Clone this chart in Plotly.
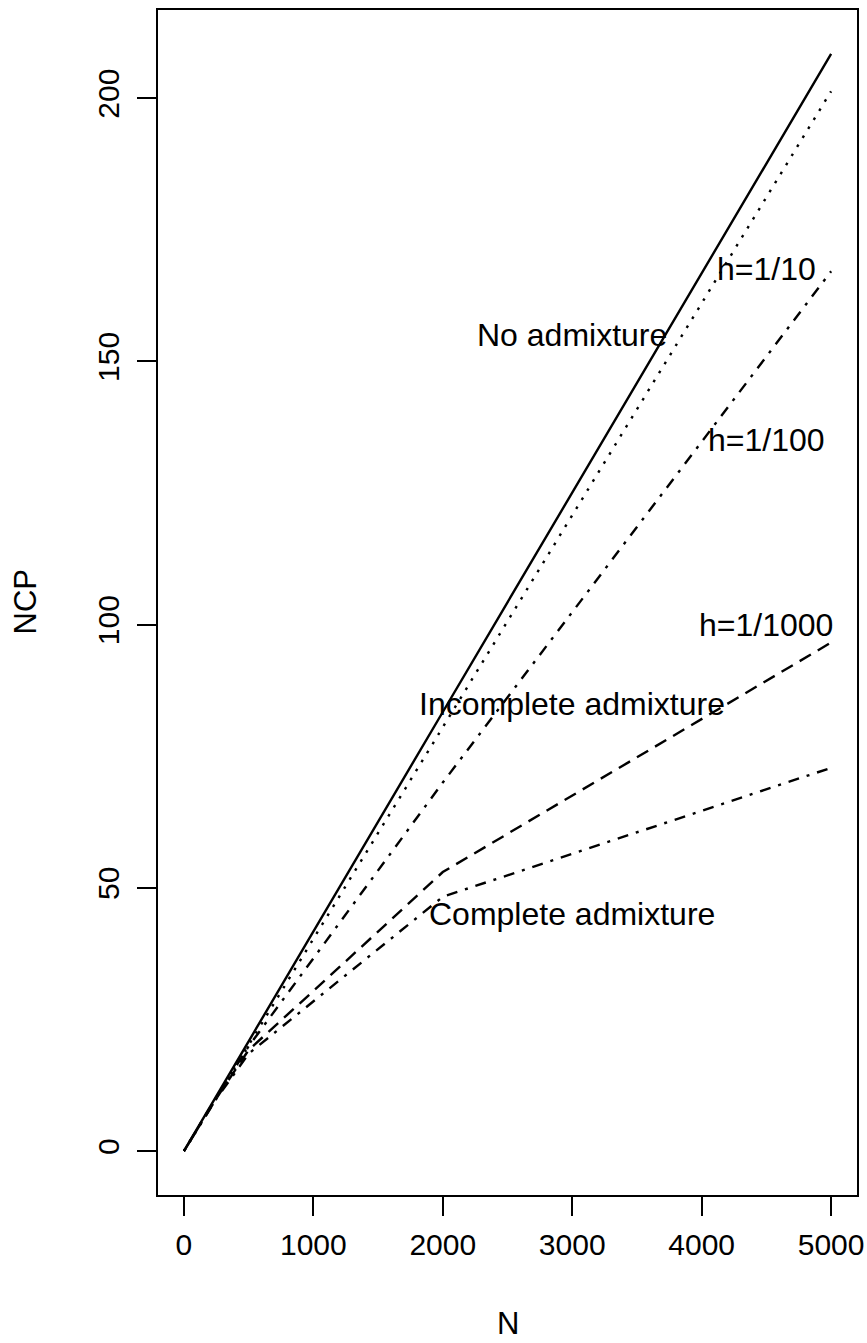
import plotly.graph_objects as go

# ---- data ----
N = [0, 250, 500, 1000, 2000, 5000]
no_admixture = [0, 10.4, 20.8, 41.7, 83.4, 208.4]
h_1_10 = [0, 10.1, 20.1, 40.3, 80.5, 201.3]
h_1_100 = [0, 10.2, 19.9, 36.6, 70.0, 167.1]
h_1_1000 = [0, 10.0, 19.2, 30.4, 53.0, 96.6]
complete_admixture = [0, 9.9, 18.5, 28.4, 48.3, 72.8]

x_ticks = [0, 1000, 2000, 3000, 4000, 5000]
y_ticks = [0, 50, 100, 150, 200]

label_text = ["No admixture", "h=1/10", "h=1/100", "h=1/1000",
              "Incomplete admixture", "Complete admixture"]
label_x = [3000, 4500, 4500, 4500, 3000, 3000]
label_y = [155, 167.5, 135, 100, 85, 45]

FONT = "Liberation Sans, Arial, Helvetica, sans-serif"

series = [
    ("No admixture", no_admixture, "solid"),
    ("h=1/10", h_1_10, "2.6px,8px"),
    ("h=1/100", h_1_100, "3px,8px,11px,8px"),
    ("h=1/1000", h_1_1000, "13px,8px"),
    ("Complete admixture", complete_admixture, "3px,8px,11px,8px"),
]

fig = go.Figure()
for name, ys, dash in series:
    fig.add_trace(go.Scatter(x=N, y=ys, mode="lines", name=name,
                             line=dict(color="black", width=2.4, dash=dash)))

for t, x, y in zip(label_text, label_x, label_y):
    fig.add_annotation(x=x, y=y, text=t, showarrow=False,
                       xanchor="center", yanchor="middle",
                       font=dict(family=FONT, size=32, color="black"))

# axis titles
fig.add_annotation(xref="paper", yref="paper", x=0.5, y=0, text="N",
                   showarrow=False, xanchor="center", yanchor="middle",
                   yshift=-128, font=dict(family=FONT, size=31, color="black"))
fig.add_annotation(xref="paper", yref="paper", x=0, y=0.5, text="NCP",
                   showarrow=False, xanchor="center", yanchor="middle",
                   textangle=-90, xshift=-133,
                   font=dict(family=FONT, size=31, color="black"))

ymax = max(no_admixture)
fig.update_layout(
    width=867, height=1343,
    margin=dict(l=158, r=10, t=10, b=148, autoexpand=False),
    paper_bgcolor="white", plot_bgcolor="white",
    showlegend=False,
    font=dict(family=FONT, size=30, color="black"),
)
fig.update_xaxes(range=[-200, 5200], tickvals=x_ticks,
                 ticktext=[str(v) for v in x_ticks],
                 showgrid=False, zeroline=False, automargin=False,
                 showline=True, linecolor="black", linewidth=2, mirror=True,
                 ticks="outside", ticklen=19, tickwidth=2, tickcolor="black",
                 ticklabelstandoff=3,
                 tickfont=dict(family=FONT, size=30, color="black"))
fig.update_yaxes(range=[-0.04 * ymax, 1.04 * ymax], tickvals=y_ticks,
                 ticktext=[str(v) for v in y_ticks],
                 showgrid=False, zeroline=False, automargin=False,
                 showline=True, linecolor="black", linewidth=2, mirror=True,
                 ticks="outside", ticklen=19, tickwidth=2, tickcolor="black",
                 tickangle=-90, ticklabelstandoff=6,
                 tickfont=dict(family=FONT, size=30, color="black"))

fig.write_html("out.html")
